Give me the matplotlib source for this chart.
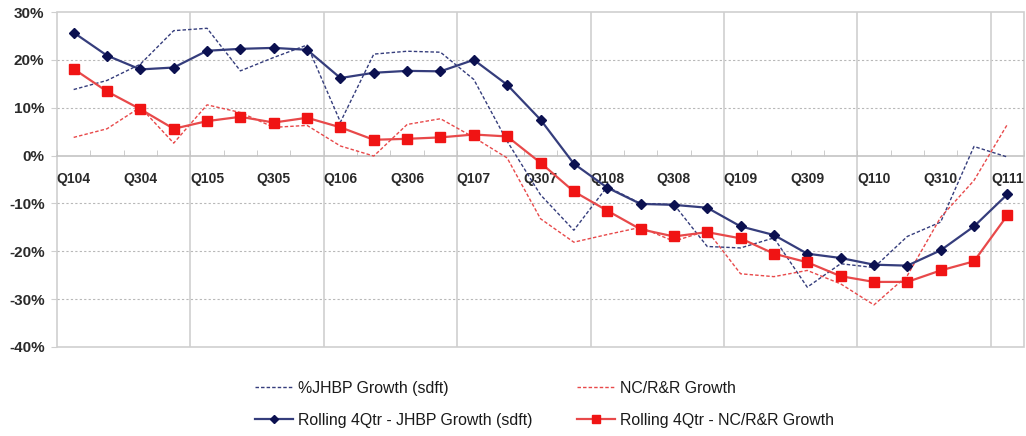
import numpy as np
import matplotlib
matplotlib.use("Agg")
import matplotlib.pyplot as plt
import matplotlib.ticker as mticker
from matplotlib.patches import Rectangle

plt.rcParams.update({
    "font.family": ["Liberation Sans", "DejaVu Sans"],
})

# quarterly growth, percent
QUARTERS = [f"Q{q}{y:02d}" for y in range(4, 11) for q in range(1, 5)] + ["Q111"]

jhbp_growth = [13.8, 15.7, 19.1, 26.1, 26.6, 17.7, 20.5, 23.1, 7.0, 21.2,
               21.8, 21.6, 15.9, 3.0, -8.2, -15.6, -6.5, -10.0, -10.2, -19.0,
               -19.3, -17.2, -27.5, -22.6, -23.4, -16.9, -13.9, 1.9, -0.3]
nc_growth = [3.8, 5.6, 10.1, 2.6, 10.6, 9.0, 5.9, 6.3, 2.0, -0.1,
             6.5, 7.7, 3.8, -0.5, -13.2, -18.1, -16.5, -15.0, -17.9, -15.7,
             -24.7, -25.3, -24.0, -26.8, -31.2, -25.1, -12.9, -5.2, 6.5]
roll_jhbp = [25.7, 20.9, 18.0, 18.4, 21.9, 22.3, 22.5, 22.1, 16.2, 17.3,
             17.7, 17.6, 20.0, 14.8, 7.5, -1.7, -6.7, -10.1, -10.3, -10.9,
             -14.8, -16.6, -20.5, -21.4, -22.8, -23.0, -19.8, -14.8, -8.1]
roll_nc = [18.1, 13.4, 9.7, 5.6, 7.2, 8.1, 6.9, 7.9, 5.9, 3.3,
           3.5, 3.8, 4.4, 4.0, -1.5, -7.5, -11.5, -15.4, -16.9, -16.0,
           -17.3, -20.5, -22.3, -25.2, -26.4, -26.4, -24.0, -22.1, -12.5]

YMIN, YMAX = -40, 30
GRID = "#cfcfcf"
NAVY_LINE = "#353d7c"
NAVY_MARK = "#0b1050"
RED_LINE = "#e8494a"
RED_MARK = "#f01414"

fig = plt.figure(figsize=(10.26, 4.36), dpi=100)
ax = fig.add_axes([57 / 1026, 1 - 347 / 436, 967 / 1026, 335 / 436])

x = np.arange(len(QUARTERS))

l1, = ax.plot(x, jhbp_growth, color=NAVY_LINE, lw=1.0,
              linestyle=(0, (2.5, 1.5)), label="%JHBP Growth (sdft)", zorder=3)
l3, = ax.plot(x, nc_growth, color=RED_LINE, lw=1.0,
              linestyle=(0, (2.5, 1.5)), label="NC/R&R Growth", zorder=3)
l2, = ax.plot(x, roll_jhbp, color=NAVY_LINE, lw=1.6, marker="D", ms=5.2,
              mfc=NAVY_MARK, mec=NAVY_MARK,
              label="Rolling 4Qtr - JHBP Growth (sdft)", zorder=4)
l4, = ax.plot(x, roll_nc, color=RED_LINE, lw=1.6, marker="s", ms=7,
              mfc=RED_MARK, mec=RED_MARK,
              label="Rolling 4Qtr - NC/R&R Growth", zorder=4)

ax.set_xlim(-0.5, len(QUARTERS) - 0.5)
ax.set_ylim(YMIN, YMAX)

# frame and gridlines
for s in ["top", "right", "left"]:
    ax.spines[s].set_visible(False)
ax.add_patch(Rectangle((0, 0), 1, 1, transform=ax.transAxes, fill=False,
                       edgecolor=GRID, lw=1.2, zorder=1, clip_on=False))
ax.spines["bottom"].set_position(("data", 0))
ax.spines["bottom"].set_color("#c4c4c4")
ax.spines["bottom"].set_linewidth(1.2)

for v in range(-30, 30, 10):
    if v != 0:
        ax.axhline(v, color="#b8b8b8", lw=0.8, linestyle=(0, (2, 2)), zorder=1)
for b in np.arange(3.5, len(QUARTERS), 4):
    ax.axvline(b, color=GRID, lw=1.2, zorder=1)

# category labels every second quarter, ticks on category boundaries
ax.set_xticks(x[::2])
ax.set_xticklabels(QUARTERS[::2])
ax.set_xticks(np.arange(-0.5, len(QUARTERS), 1), minor=True)
ax.tick_params(axis="x", which="major", length=0, pad=12, labelsize=10,
               labelcolor="#2a2a2a")
ax.tick_params(axis="x", which="minor", direction="in", length=4,
               color="#c4c4c4")
for t in ax.get_xticklabels():
    t.set_fontweight("bold")

ax.set_yticks(np.arange(YMIN, YMAX + 1, 10))
ax.yaxis.set_major_formatter(mticker.FuncFormatter(lambda v, _: f"{v:.0f}%"))
ax.tick_params(axis="y", length=4, color=GRID, pad=5, labelsize=11,
               labelcolor="#2a2a2a")
for t in ax.get_yticklabels():
    t.set_fontweight("bold")

# legend in two columns below the plot
leg_kw = dict(loc="upper left", frameon=False, fontsize=11.4, handlelength=2.4,
              handletextpad=0.3, labelspacing=1.05, borderpad=0,
              borderaxespad=0, markerscale=0.8, labelcolor="#1a1a1a")
fig.legend([l1, l2], [l1.get_label(), l2.get_label()],
           bbox_to_anchor=(255 / 1026, 1 - 381 / 436), **leg_kw)
fig.legend([l3, l4], [l3.get_label(), l4.get_label()],
           bbox_to_anchor=(577 / 1026, 1 - 381 / 436), **leg_kw)

fig.savefig("out.png", dpi=100, facecolor="white")
